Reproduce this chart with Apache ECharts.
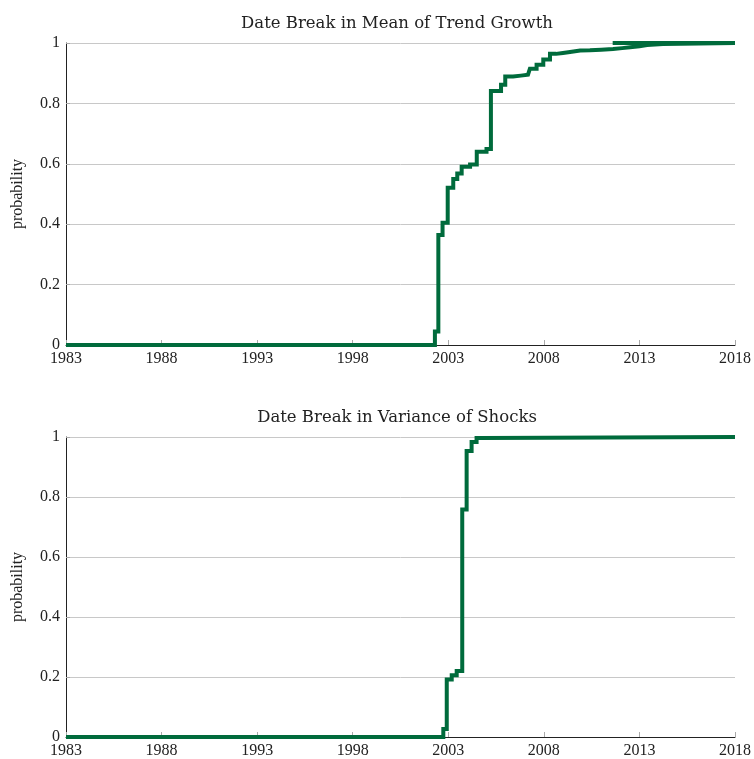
<!DOCTYPE html>
<html>
<head>
<meta charset="utf-8">
<script src="https://cdn.jsdelivr.net/npm/echarts@6/dist/echarts.min.js"></script>
<style>
html,body{margin:0;padding:0;background:#fff;}
#chart{width:754px;height:759px;}
</style>
</head>
<body>
<div id="chart"></div>
<script>
// Titles / labels
var titleTop = 'Date Break in Mean of Trend Growth';
var titleBottom = 'Date Break in Variance of Shocks';
var yLabel = 'probability';

// X tick range
var xMin = 1983, xMax = 2018, xInterval = 5;

// Top panel: cumulative probability of break date (mean of trend growth)
var meanYears = [1983, 2002.30, 2002.48, 2002.70, 2002.97, 2003.26, 2003.47, 2003.70, 2004.14, 2004.49, 2005.00, 2005.23, 2005.76, 2005.98, 2006.39, 2006.80, 2007.17, 2007.27, 2007.62, 2007.97, 2008.32, 2008.64, 2009.00, 2009.37, 2009.90, 2010.41, 2011.00, 2011.62, 2012.10, 2012.51, 2013.00, 2013.40, 2014.23, 2018];
var meanProb  = [0,    0.045,   0.364,   0.405,   0.521,   0.550,   0.568,   0.590,   0.598,   0.640,   0.649,   0.841,   0.862,   0.889,   0.892,   0.895,   0.900,   0.915,   0.928,   0.945,   0.964,   0.967,   0.970,   0.975,   0.976,   0.978,   0.980,   0.983,   0.986,   0.989,   0.993,   0.997,   1.000,   1.000];
// Overlapping segment at 1 in the top panel
var meanTailYears = [2011.6, 2018];
var meanTailProb  = [1, 1];

// Bottom panel: variance of shocks
var varYears = [1983, 2002.74, 2002.92, 2003.18, 2003.44, 2003.73, 2003.96, 2004.22, 2004.48, 2004.8, 2018];
var varProb  = [0,    0.027,   0.192,   0.206,   0.220,   0.758,   0.953,   0.983,   0.997,   1.000, 1.000];

function zip(a, b) { return a.map(function (v, i) { return [v, b[i]]; }); }

var green = '#006b3c';
var font = 'Liberation Serif';
var titleFont = 'DejaVu Serif';

function xAxisCfg(gi) {
  return {
    type: 'value', gridIndex: gi, min: xMin, max: xMax, interval: xInterval,
    axisLine: { show: true, lineStyle: { color: '#222', width: 1 } },
    axisTick: { show: true, inside: true, length: 5, lineStyle: { color: '#aaa' } },
    axisLabel: { color: '#222', fontFamily: font, fontSize: 16, margin: 6, formatter: function (v) { return String(v); } },
    splitLine: { show: false }
  };
}
function yAxisCfg(gi) {
  return {
    type: 'value', gridIndex: gi, min: 0, max: 1, interval: 0.2,
    name: yLabel, nameLocation: 'middle', nameGap: 40, nameRotate: 90,
    nameTextStyle: { color: '#222', fontFamily: font, fontSize: 16 },
    axisLine: { show: true, lineStyle: { color: '#222', width: 1 } },
    axisTick: { show: true, inside: true, length: 4, lineStyle: { color: '#aaa' } },
    axisLabel: { color: '#222', fontFamily: font, fontSize: 16, margin: 6, formatter: function (v) { return String(+v.toFixed(1)); } },
    splitLine: { show: true, lineStyle: { color: '#c8c8c8', width: 1 } }
  };
}
function lineSeries(xi, data) {
  return {
    type: 'line', xAxisIndex: xi, yAxisIndex: xi, step: 'end', data: data,
    showSymbol: false, symbol: 'none', animation: false,
    lineStyle: { color: green, width: 4, join: 'miter', cap: 'butt' }
  };
}

var chart = echarts.init(document.getElementById('chart'), null, { renderer: 'canvas' });
chart.setOption({
  backgroundColor: '#fff',
  animation: false,
  title: [
    { text: titleTop, left: 392, top: 10, textAlign: 'center', textStyle: { fontFamily: titleFont, fontWeight: 'normal', fontSize: 16.5, color: '#222' } },
    { text: titleBottom, left: 392, top: 404, textAlign: 'center', textStyle: { fontFamily: titleFont, fontWeight: 'normal', fontSize: 16.5, color: '#222' } }
  ],
  grid: [
    { left: 66, right: 19, top: 43, height: 302 },
    { left: 66, right: 19, top: 437, height: 303 }
  ],
  xAxis: [xAxisCfg(0), xAxisCfg(1)],
  yAxis: [yAxisCfg(0), yAxisCfg(1)],
  series: [
    lineSeries(0, zip(meanYears, meanProb)),
    lineSeries(0, zip(meanTailYears, meanTailProb)),
    lineSeries(1, zip(varYears, varProb))
  ]
});
</script>
</body>
</html>
